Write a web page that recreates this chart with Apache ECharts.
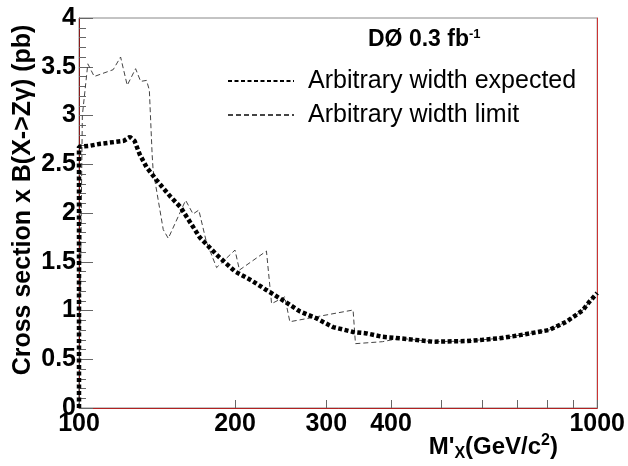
<!DOCTYPE html>
<html><head><meta charset="utf-8">
<script src="https://cdn.jsdelivr.net/npm/echarts@6/dist/echarts.min.js"></script>
<style>html,body{margin:0;padding:0;background:#fff}#c{width:628px;height:466px}</style>
</head><body><div id="c"></div>
<script>
const massExpected = [100,100,105,110,118,122,125.4,128,131,135,141,150,157,165,171,184.5,200,215,230,250,267,287,309,338,359,385,416,482,560,601,648,697,750,808,872,937,966,1000];
const valExpected  = [0,2.68,2.69,2.71,2.73,2.74,2.78,2.74,2.60,2.47,2.34,2.17,2.06,1.88,1.75,1.57,1.40,1.31,1.21,1.09,0.99,0.92,0.83,0.78,0.765,0.73,0.715,0.68,0.687,0.70,0.715,0.74,0.77,0.80,0.885,1.0,1.09,1.18];
const massLimit = [100,101.5,104,107,116.4,120.3,123.9,128.6,131.5,135,136.7,138.4,139,145.4,148.7,160.6,166,170.3,176,184.3,200,204,230,235.3,249.5,255.2,338,341.6,385,416,482,560,601,648,697,750,808,872,937,966,1000];
const valLimit  = [0,3.0,3.53,3.40,3.47,3.60,3.31,3.48,3.35,3.36,3.26,2.6,2.44,1.83,1.74,2.13,1.99,2.03,1.71,1.44,1.62,1.415,1.61,1.07,1.14,0.885,1.005,0.66,0.68,0.715,0.68,0.687,0.70,0.715,0.74,0.77,0.80,0.885,1.0,1.09,1.18];
const xTickValues = [100,200,300,400,500,600,700,800,900,1000];
const xLabelValues = [100,200,300,400,1000];
const seriesNames = ['Arbitrary width expected','Arbitrary width limit'];

const pair = (xs, ys) => xs.map((x, i) => [x, ys[i]]);
const FONT = 'Liberation Sans, Arial, sans-serif';
const chart = echarts.init(document.getElementById('c'));
chart.setOption({
  animation: false,
  backgroundColor: '#fff',
  grid: {left: 79, right: 30, top: 18, bottom: 58, show: true, borderColor: '#888', borderWidth: 1},
  legend: {
    data: seriesNames, orient: 'vertical', left: 222, top: 62,
    itemWidth: 66, itemHeight: 12, itemGap: 6,
    itemStyle: {opacity: 0},
    textStyle: {fontFamily: FONT, fontSize: 25, color: '#000', padding: [0,0,0,9], lineHeight: 28}
  },
  xAxis: {
    type: 'log', logBase: 10, min: 100, max: 1000,
    axisLine: {lineStyle: {color: '#b22222', width: 1}},
    axisTick: {inside: true, length: 8, lineStyle: {color: '#666'}, customValues: xTickValues},
    axisLabel: {customValues: xLabelValues, formatter: v => String(Math.round(v)), fontFamily: FONT, fontWeight: 'bold', fontSize: 25, color: '#000', margin: 4},
    splitLine: {show: false}, minorTick: {show: false}
  },
  yAxis: [{
    type: 'value', min: 0, max: 4, interval: 0.5,
    axisLine: {show: true, lineStyle: {color: '#8b1a1a', width: 1}},
    axisTick: {inside: true, length: 14, lineStyle: {color: '#666'}},
    minorTick: {show: true, splitNumber: 5, length: 7, lineStyle: {color: '#666'}},
    axisLabel: {fontFamily: FONT, fontWeight: 'bold', fontSize: 25, color: '#000', margin: 3},
    splitLine: {show: false}
  }, {
    type: 'value', min: 0, max: 4, position: 'right',
    axisLine: {show: true, lineStyle: {color: '#cc3333', width: 1}},
    axisTick: {show: false}, axisLabel: {show: false}, splitLine: {show: false}
  }],
  graphic: [
    {type: 'text', x: 23, y: 200, rotation: Math.PI / 2,
     style: {text: 'Cross section x B(X->Z\u03b3) (pb)', font: 'bold 25px ' + FONT, fill: '#000', align: 'center', verticalAlign: 'middle'}},
    {type: 'text', x: 558, y: 447,
     style: {text: "{m|M'}{s|X}{m|(GeV/c}{p|2}{m|)}", align: 'right', verticalAlign: 'middle',
       rich: {m: {font: 'bold 24px ' + FONT, fill: '#000'},
              s: {font: 'bold 16px ' + FONT, fill: '#000', padding: [14,0,0,0]},
              p: {font: 'bold 16px ' + FONT, fill: '#000', padding: [0,0,12,0]}}}},
    {type: 'text', x: 368, y: 40,
     style: {text: '{m|D\u00d8 0.3 fb}{p|-1}', verticalAlign: 'middle',
       rich: {m: {font: 'bold 23px ' + FONT, fill: '#000'},
              p: {font: 'bold 13px ' + FONT, fill: '#000', padding: [0,0,12,0]}}}}
  ],
  series: [
    {name: seriesNames[0], type: 'line', data: pair(massExpected, valExpected), showSymbol: false, symbol: 'none',
     lineStyle: {color: '#000', width: 4.5, type: [4, 2.5], cap: 'butt'}, itemStyle: {color: '#000'}, z: 3},
    {name: seriesNames[1], type: 'line', data: pair(massLimit, valLimit), showSymbol: false, symbol: 'none',
     lineStyle: {color: '#444', width: 1, type: [5, 3]}, itemStyle: {color: '#444'}, z: 2}
  ]
});
</script></body></html>
